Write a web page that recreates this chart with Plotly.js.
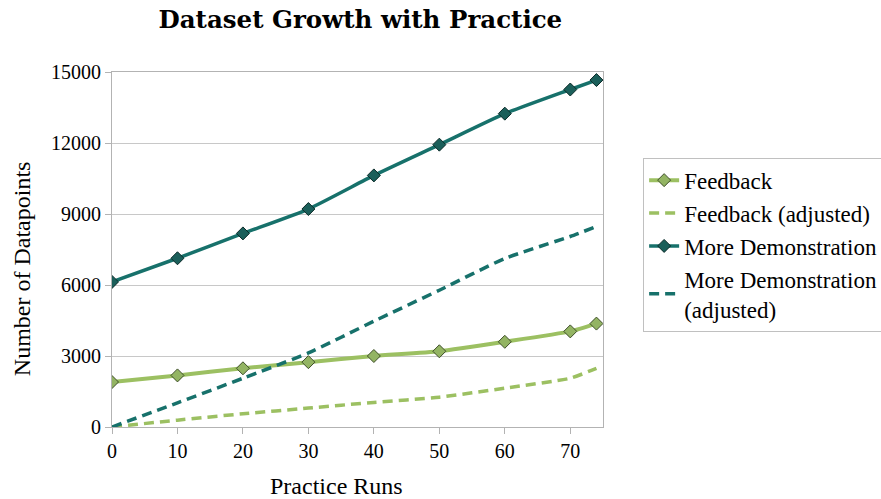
<!DOCTYPE html>
<html>
<head>
<meta charset="utf-8">
<script src="https://cdn.plot.ly/plotly-3.0.1.min.js"></script>
<style>
html,body{margin:0;padding:0;background:#fff;}
#chart{width:881px;height:499px;}
</style>
</head>
<body>
<div id="chart"></div>
<script>
const runs = [0, 10, 20, 30, 40, 50, 60, 70, 74];
const feedback = [1900, 2180, 2480, 2740, 3000, 3200, 3600, 4040, 4370];
const feedbackAdj = [0, 290, 560, 800, 1040, 1260, 1640, 2060, 2480];
const moreDemo = [6130, 7130, 8180, 9210, 10630, 11930, 13240, 14260, 14660];
const moreDemoAdj = [0, 1020, 2060, 3130, 4470, 5780, 7120, 8050, 8470];
const xTicks = [0, 10, 20, 30, 40, 50, 60, 70];
const yTicks = [0, 3000, 6000, 9000, 12000, 15000];
const xTitle = 'Practice Runs';
const yTitle = 'Number of Datapoints';

const lightGreen = '#9cc062';
const teal = '#17716b';
const serif = "Liberation Serif";

const traces = [
  {x: runs, y: feedback, name: 'Feedback', mode: 'lines+markers', legendgroup: 'a',
   line: {color: lightGreen, width: 4, shape: 'spline', smoothing: 0.5},
   marker: {symbol: 'diamond', size: 10, color: '#93b463', line: {color: '#3f4f2a', width: 1}}},
  {x: runs, y: feedbackAdj, name: 'Feedback (adjusted)', mode: 'lines', legendgroup: 'b',
   line: {color: lightGreen, width: 3.5, dash: '10px,6px', shape: 'spline', smoothing: 0.5}},
  {x: runs, y: moreDemo, name: 'More Demonstration', mode: 'lines+markers', legendgroup: 'c',
   line: {color: teal, width: 3.5, shape: 'spline', smoothing: 0.5},
   marker: {symbol: 'diamond', size: 10, color: '#1b5f5a', line: {color: '#0c2b29', width: 1}}},
  {x: runs, y: moreDemoAdj, name: 'More Demonstration<br>(adjusted)', mode: 'lines', legendgroup: 'd',
   line: {color: teal, width: 3.5, dash: '10px,6px', shape: 'spline', smoothing: 0.5}}
];

const layout = {
  width: 881, height: 499,
  margin: {l: 112, r: 278, t: 72, b: 72},
  paper_bgcolor: '#ffffff', plot_bgcolor: '#ffffff',
  title: {text: '<b>Dataset Growth with Practice</b>', x: 0.409, xanchor: 'center', y: 0.962, yanchor: 'middle',
          font: {family: "DejaVu Serif", size: 24.5, color: '#000'}},
  font: {family: serif, color: '#000'},
  showlegend: true,
  legend: {xref: 'container', yref: 'container', x: 0.730, xanchor: 'left', y: 0.684, yanchor: 'top',
           bordercolor: '#c0c0c0', borderwidth: 1,
           bgcolor: '#fff', font: {family: serif, size: 23, color: '#000'},
           traceorder: 'grouped', tracegroupgap: 0},
  xaxis: {range: [0, 75], tickvals: xTicks, ticktext: xTicks.map(String), ticks: 'outside', ticklen: 6,
          tickcolor: '#b3b3b3', showgrid: false, zeroline: false, showline: true, linecolor: '#b3b3b3',
          mirror: true, tickfont: {family: serif, size: 20, color: '#000'}},
  yaxis: {range: [0, 15000], tickvals: yTicks, ticktext: yTicks.map(String), ticks: 'outside', ticklen: 6,
          tickcolor: '#b3b3b3', showgrid: true, gridcolor: '#c8c8c8', gridwidth: 1, zeroline: false,
          showline: true, linecolor: '#b3b3b3', mirror: true,
          tickfont: {family: serif, size: 20, color: '#000'}},
  annotations: [
    {text: xTitle, xref: 'paper', yref: 'paper', x: 0.458, y: -0.166, xanchor: 'center', yanchor: 'middle',
     showarrow: false, font: {family: serif, size: 24, color: '#000'}},
    {text: yTitle, xref: 'paper', yref: 'paper', x: -0.183, y: 0.445, xanchor: 'center', yanchor: 'middle',
     textangle: -90, showarrow: false, font: {family: serif, size: 24, color: '#000'}}
  ]
};

Plotly.newPlot('chart', traces, layout, {displayModeBar: false, staticPlot: true});
</script>
</body>
</html>
